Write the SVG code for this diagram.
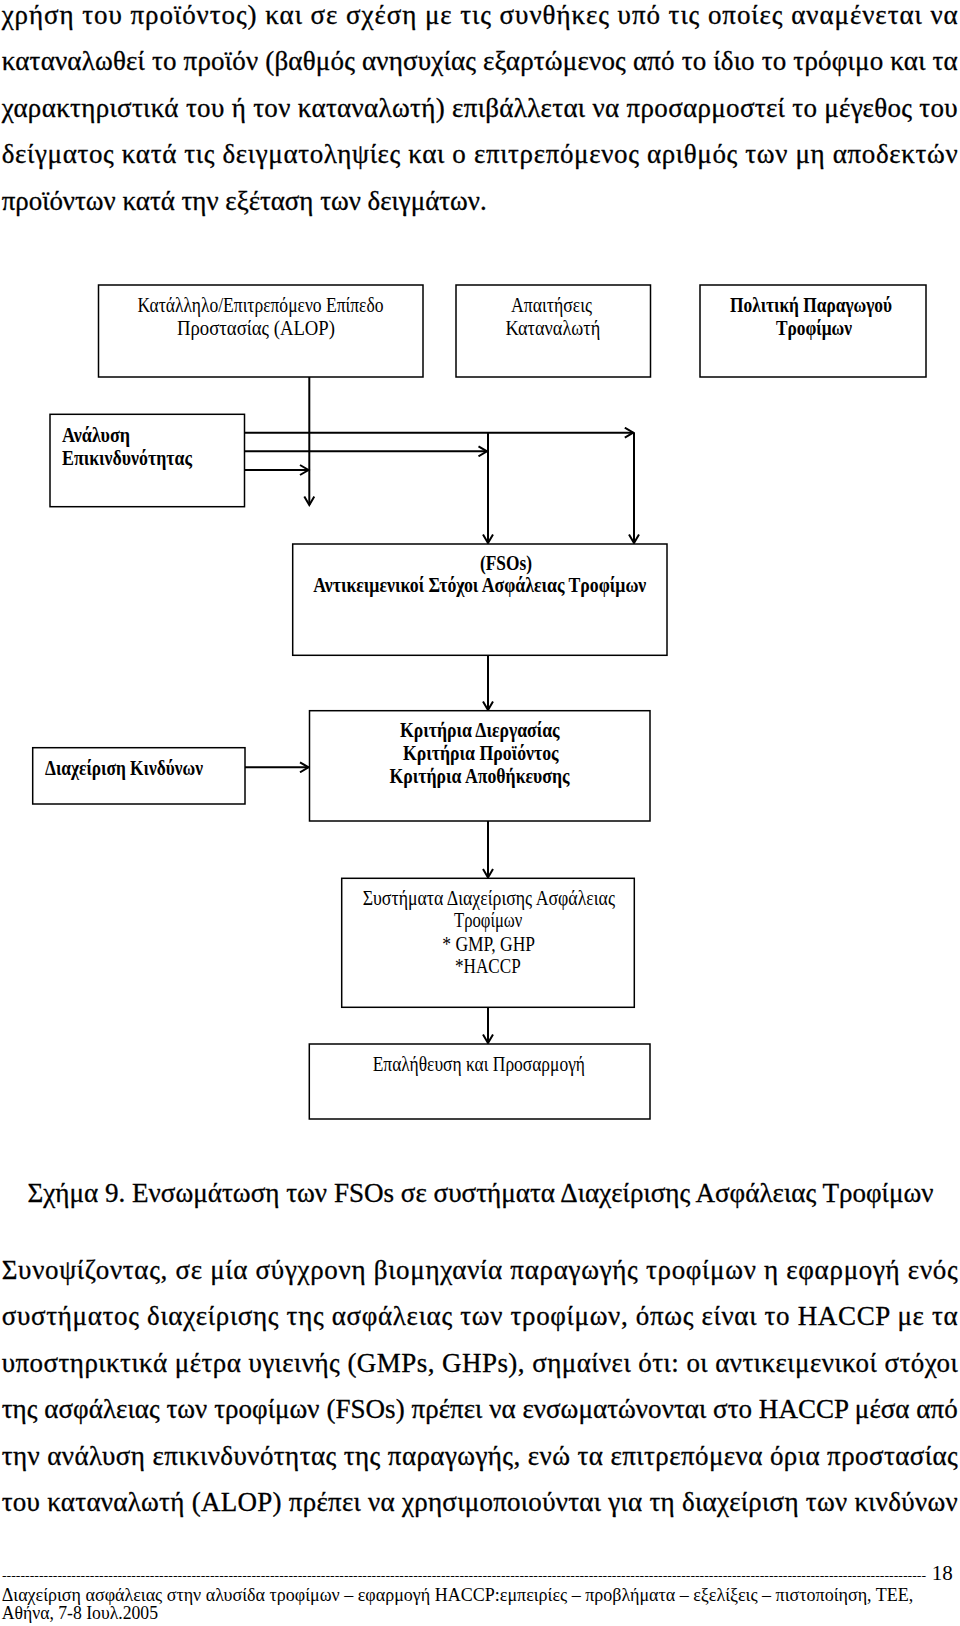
<svg xmlns="http://www.w3.org/2000/svg" width="960" height="1626" viewBox="0 0 960 1626">
<style>
text{font-family:"Liberation Serif","Times New Roman",serif;fill:#000}
.body{font-size:27px;stroke:#000;stroke-width:0.3}
.lbl{font-size:21px}
.b{font-weight:bold}
.box{fill:#fff;stroke:#000;stroke-width:1.5}
.conn line{stroke:#000;stroke-width:2;fill:none}
.ft{font-size:18px}
</style>
<defs>
<marker id="arr" viewBox="-10 -6 12 12" refX="0" refY="0" markerWidth="12" markerHeight="12" markerUnits="userSpaceOnUse" orient="auto">
<path d="M-8.5,-5 L0,0 L-8.5,5" fill="none" stroke="#000" stroke-width="2"/>
</marker>
</defs>
<rect width="960" height="1626" fill="#fff"/>

<g id="para-top" class="body">
<text x="1.7" y="23.5" textLength="956" lengthAdjust="spacing">χρήση του προϊόντος) και σε σχέση με τις συνθήκες υπό τις οποίες αναμένεται να</text>
<text x="1.7" y="70" textLength="956" lengthAdjust="spacing">καταναλωθεί το προϊόν (βαθμός ανησυχίας εξαρτώμενος από το ίδιο το τρόφιμο και τα</text>
<text x="1.7" y="116.5" textLength="956" lengthAdjust="spacing">χαρακτηριστικά του ή τον καταναλωτή) επιβάλλεται να προσαρμοστεί το μέγεθος του</text>
<text x="1.7" y="163" textLength="956" lengthAdjust="spacing">δείγματος κατά τις δειγματοληψίες και ο επιτρεπόμενος αριθμός των μη αποδεκτών</text>
<text x="1.7" y="209.5" textLength="485" lengthAdjust="spacingAndGlyphs">προϊόντων κατά την εξέταση των δειγμάτων.</text>
</g>

<g class="conn" id="connectors">
<line x1="309.3" y1="377" x2="309.3" y2="505" marker-end="url(#arr)"/>
<line x1="245" y1="432.7" x2="633.3" y2="432.7" marker-end="url(#arr)"/>
<line x1="245" y1="451.3" x2="487" y2="451.3" marker-end="url(#arr)"/>
<line x1="245" y1="470" x2="308.5" y2="470" marker-end="url(#arr)"/>
<line x1="488" y1="432.7" x2="488" y2="543" marker-end="url(#arr)"/>
<line x1="634" y1="432.7" x2="634" y2="543" marker-end="url(#arr)"/>
<line x1="488" y1="655.3" x2="488" y2="710" marker-end="url(#arr)"/>
<line x1="245" y1="767.3" x2="308.5" y2="767.3" marker-end="url(#arr)"/>
<line x1="488" y1="821" x2="488" y2="877.5" marker-end="url(#arr)"/>
<line x1="488" y1="1007.3" x2="488" y2="1043" marker-end="url(#arr)"/>
</g>

<g id="alop">
<rect class="box" x="98.5" y="285" width="324.5" height="92"/>
<text class="lbl" x="137.5" y="312" textLength="246" lengthAdjust="spacingAndGlyphs">Κατάλληλο/Επιτρεπόμενο Επίπεδο</text>
<text class="lbl" x="177" y="335" textLength="158" lengthAdjust="spacingAndGlyphs">Προστασίας (ALOP)</text>
</g>

<g id="consumer">
<rect class="box" x="456" y="285" width="194.5" height="92"/>
<text class="lbl" x="511" y="312" textLength="81" lengthAdjust="spacingAndGlyphs">Απαιτήσεις</text>
<text class="lbl" x="505.5" y="335" textLength="94.7" lengthAdjust="spacingAndGlyphs">Καταναλωτή</text>
</g>

<g id="producer">
<rect class="box" x="700" y="285" width="226" height="92"/>
<text class="lbl b" x="730" y="312" textLength="162" lengthAdjust="spacingAndGlyphs">Πολιτική Παραγωγού</text>
<text class="lbl b" x="776" y="335" textLength="76" lengthAdjust="spacingAndGlyphs">Τροφίμων</text>
</g>

<g id="risk-analysis">
<rect class="box" x="50" y="414.3" width="194.5" height="92.4"/>
<text class="lbl b" x="62" y="442" textLength="68" lengthAdjust="spacingAndGlyphs">Ανάλυση</text>
<text class="lbl b" x="62" y="464.5" textLength="130" lengthAdjust="spacingAndGlyphs">Επικινδυνότητας</text>
</g>

<g id="fsos">
<rect class="box" x="292.7" y="544" width="374.3" height="111.3"/>
<text class="lbl b" x="480" y="570" textLength="52" lengthAdjust="spacingAndGlyphs">(FSOs)</text>
<text class="lbl b" x="313.3" y="592" textLength="333" lengthAdjust="spacingAndGlyphs">Αντικειμενικοί Στόχοι Ασφάλειας Τροφίμων</text>
</g>

<g id="risk-management">
<rect class="box" x="32.7" y="747.7" width="212.3" height="56.3"/>
<text class="lbl b" x="45" y="775" textLength="158" lengthAdjust="spacingAndGlyphs">Διαχείριση Κινδύνων</text>
</g>

<g id="criteria">
<rect class="box" x="309.5" y="710.7" width="340.5" height="110.3"/>
<text class="lbl b" x="400" y="737.3" textLength="159.6" lengthAdjust="spacingAndGlyphs">Κριτήρια Διεργασίας</text>
<text class="lbl b" x="403" y="760" textLength="155.5" lengthAdjust="spacingAndGlyphs">Κριτήρια Προϊόντος</text>
<text class="lbl b" x="389.5" y="782.7" textLength="180" lengthAdjust="spacingAndGlyphs">Κριτήρια Αποθήκευσης</text>
</g>

<g id="fsms">
<rect class="box" x="341.7" y="878.3" width="292.6" height="129"/>
<text class="lbl" x="362.7" y="905" textLength="252.3" lengthAdjust="spacingAndGlyphs">Συστήματα Διαχείρισης Ασφάλειας</text>
<text class="lbl" x="454" y="927.3" textLength="68.3" lengthAdjust="spacingAndGlyphs">Τροφίμων</text>
<text class="lbl" x="442.3" y="950.7" textLength="92.7" lengthAdjust="spacingAndGlyphs">* GMP, GHP</text>
<text class="lbl" x="455" y="972.7" textLength="65.7" lengthAdjust="spacingAndGlyphs">*HACCP</text>
</g>

<g id="verification">
<rect class="box" x="309.3" y="1044" width="340.7" height="75"/>
<text class="lbl" x="372.7" y="1070.7" textLength="212.3" lengthAdjust="spacingAndGlyphs">Επαλήθευση και Προσαρμογή</text>
</g>

<g id="caption" class="body">
<text x="27.5" y="1201.7" textLength="906" lengthAdjust="spacingAndGlyphs">Σχήμα 9. Ενσωμάτωση των FSOs σε συστήματα Διαχείρισης Ασφάλειας Τροφίμων</text>
</g>

<g id="para-bottom" class="body">
<text x="1.7" y="1279" textLength="956" lengthAdjust="spacing">Συνοψίζοντας, σε μία σύγχρονη βιομηχανία παραγωγής τροφίμων η εφαρμογή ενός</text>
<text x="1.7" y="1325.4" textLength="956" lengthAdjust="spacing">συστήματος διαχείρισης της ασφάλειας των τροφίμων, όπως είναι το HACCP με τα</text>
<text x="1.7" y="1371.8" textLength="956" lengthAdjust="spacing">υποστηρικτικά μέτρα υγιεινής (GMPs, GHPs), σημαίνει ότι: οι αντικειμενικοί στόχοι</text>
<text x="1.7" y="1418.2" textLength="956" lengthAdjust="spacing">της ασφάλειας των τροφίμων (FSOs) πρέπει να ενσωματώνονται στο HACCP μέσα από</text>
<text x="1.7" y="1464.6" textLength="956" lengthAdjust="spacing">την ανάλυση επικινδυνότητας της παραγωγής, ενώ τα επιτρεπόμενα όρια προστασίας</text>
<text x="1.7" y="1511" textLength="956" lengthAdjust="spacing">του καταναλωτή (ALOP) πρέπει να χρησιμοποιούνται για τη διαχείριση των κινδύνων</text>
</g>

<g id="footer">
<text x="2" y="1580" font-size="12" textLength="924" lengthAdjust="spacingAndGlyphs">--------------------------------------------------------------------------------------------------------------------------------------------------------------------------------------------------------</text>
<text x="931.7" y="1580" font-size="21">18</text>
<text class="ft" x="1.7" y="1601" textLength="911.6" lengthAdjust="spacingAndGlyphs">Διαχείριση ασφάλειας στην αλυσίδα τροφίμων – εφαρμογή HACCP:εμπειρίες – προβλήματα – εξελίξεις – πιστοποίηση, ΤΕΕ,</text>
<text class="ft" x="1.7" y="1619" textLength="156.3" lengthAdjust="spacingAndGlyphs">Αθήνα, 7-8 Ιουλ.2005</text>
</g>
</svg>
